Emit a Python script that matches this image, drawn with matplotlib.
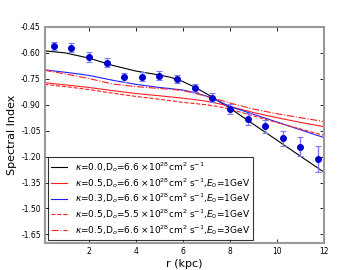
import numpy as np
import matplotlib
matplotlib.use('Agg')
import matplotlib.pyplot as plt

# observed spectral index vs radius
r_obs = [0.5, 1.25, 2.0, 2.75, 3.5, 4.25, 5.0, 5.75, 6.5, 7.25, 8.0, 8.75, 9.5, 10.25, 11.0, 11.75]
idx_obs = [-0.558, -0.571, -0.625, -0.656, -0.742, -0.737, -0.731, -0.750,
           -0.804, -0.858, -0.925, -0.983, -1.025, -1.094, -1.144, -1.213]
idx_err = [0.024, 0.026, 0.028, 0.024, 0.024, 0.024, 0.025, 0.024,
           0.025, 0.027, 0.029, 0.034, 0.038, 0.045, 0.055, 0.074]

# model curves
r_mod = [0.1, 1, 2, 3, 4, 5, 5.5, 6, 6.5, 7, 7.5, 8, 9, 10, 11, 12]
k00_d66 = [-0.588, -0.600, -0.630, -0.672, -0.705, -0.728, -0.742, -0.766, -0.798, -0.836, -0.878, -0.920,
           -1.013, -1.105, -1.198, -1.290]
k05_d66_e1 = [-0.772, -0.785, -0.800, -0.818, -0.835, -0.848, -0.855, -0.862, -0.870, -0.880, -0.893, -0.910,
              -0.945, -0.975, -1.002, -1.027]
k03_d66_e1 = [-0.698, -0.712, -0.730, -0.758, -0.782, -0.800, -0.807, -0.815, -0.830, -0.850, -0.878, -0.910,
              -0.955, -1.000, -1.045, -1.090]
k05_d55_e1 = [-0.782, -0.795, -0.812, -0.833, -0.852, -0.868, -0.877, -0.886, -0.893, -0.900, -0.910, -0.925,
              -0.965, -1.003, -1.040, -1.077]
k05_d66_e3 = [-0.700, -0.722, -0.748, -0.780, -0.795, -0.806, -0.811, -0.818, -0.833, -0.852, -0.870, -0.890,
              -0.925, -0.952, -0.975, -0.997]

labels = [
    r'$\kappa$=0.0,D$_o$=6.6 $\times$10$^{28}$cm$^2$ s$^{-1}$',
    r'$\kappa$=0.5,D$_o$=6.6 $\times$10$^{28}$cm$^2$ s$^{-1}$,$E_0$=1GeV',
    r'$\kappa$=0.3,D$_o$=6.6 $\times$10$^{28}$cm$^2$ s$^{-1}$,$E_0$=1GeV',
    r'$\kappa$=0.5,D$_o$=5.5 $\times$10$^{28}$cm$^2$ s$^{-1}$,$E_0$=1GeV',
    r'$\kappa$=0.5,D$_o$=6.6 $\times$10$^{28}$cm$^2$ s$^{-1}$,$E_0$=3GeV',
]
yticks = [-1.65, -1.50, -1.35, -1.20, -1.05, -0.90, -0.75, -0.60, -0.45]
xticks = [2, 4, 6, 8, 10, 12]

fig = plt.figure(figsize=(3.6, 2.7), dpi=100)
ax = fig.add_axes([0.125, 0.1, 0.775, 0.8])

ax.plot(r_mod, k00_d66, color='black', lw=0.8, label=labels[0])
ax.plot(r_mod, k05_d66_e1, color='#ff2020', lw=0.8, label=labels[1])
ax.plot(r_mod, k03_d66_e1, color='#2020ff', lw=0.8, label=labels[2])
ax.plot(r_mod, k05_d55_e1, color='#ff2020', lw=0.8, ls='--', label=labels[3])
ax.plot(r_mod, k05_d66_e3, color='#ff2020', lw=0.8, ls='-.', label=labels[4])

ax.errorbar(r_obs, idx_obs, yerr=idx_err, fmt='o', color='#0000cc', ms=4,
            ecolor='#7a7aff', elinewidth=1.0, capsize=2, capthick=0.8)

ax.set_xlim(0.13, 12)
ax.set_ylim(-1.70, -0.45)
ax.set_xticks(xticks)
ax.set_yticks(yticks)
ax.set_yticklabels(['%.2f' % v for v in yticks])
ax.tick_params(direction='in', length=3, width=0.6, labelsize=5.5, top=True, right=True, pad=3)
for s in ax.spines.values():
    s.set_color('#999999')
    s.set_linewidth(1.5)

ax.set_xlabel('r (kpc)', fontsize=8, labelpad=2)
ax.set_ylabel('Spectral Index', fontsize=8, labelpad=3)

leg = ax.legend(loc='lower left', fontsize=6.5, frameon=True, fancybox=False,
                handlelength=1.7, handletextpad=0.9, borderaxespad=0.35,
                labelspacing=0.2, borderpad=0.35)
leg.get_frame().set_edgecolor('black')
leg.get_frame().set_linewidth(0.8)

fig.savefig('out.png', dpi=100)
